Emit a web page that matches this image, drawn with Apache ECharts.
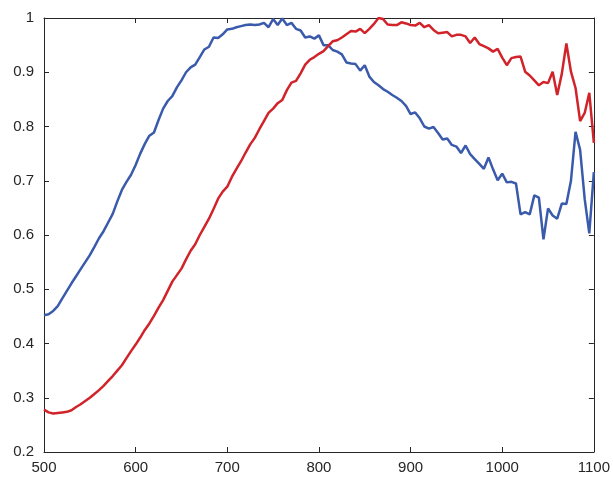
<!DOCTYPE html>
<html>
<head>
<meta charset="utf-8">
<script src="https://cdn.jsdelivr.net/npm/echarts@6/dist/echarts.min.js"></script>
<style>html,body{margin:0;padding:0;background:#fff}#c{width:613px;height:478px}</style>
</head>
<body>
<div id="c"></div>
<script>
const wavelengths = [];
for (let w = 500; w <= 1100; w += 5) wavelengths.push(w);

const blueValues = [
0.452,0.454,0.460,0.469,0.483,0.497,0.511,0.524,0.537,0.550,
0.563,0.578,0.594,0.607,0.623,0.639,0.662,0.683,0.698,0.711,
0.729,0.750,0.768,0.783,0.789,0.812,0.833,0.847,0.856,0.872,
0.885,0.900,0.909,0.914,0.928,0.942,0.947,0.964,0.963,0.970,
0.979,0.980,0.983,0.985,0.987,0.988,0.987,0.988,0.991,0.983,
0.998,0.987,0.999,0.987,0.991,0.980,0.977,0.964,0.966,0.962,
0.968,0.950,0.950,0.941,0.938,0.933,0.918,0.916,0.915,0.903,
0.913,0.892,0.882,0.876,0.869,0.864,0.858,0.853,0.847,0.838,
0.823,0.826,0.815,0.800,0.796,0.799,0.788,0.776,0.778,0.766,
0.763,0.751,0.765,0.749,0.740,0.731,0.722,0.743,0.721,0.701,
0.713,0.697,0.698,0.695,0.638,0.642,0.638,0.673,0.669,0.592,
0.649,0.636,0.630,0.658,0.657,0.700,0.790,0.757,0.666,0.603,
0.716];

const redValues = [
0.278,0.273,0.271,0.272,0.273,0.274,0.277,0.283,0.288,0.294,
0.300,0.307,0.314,0.322,0.331,0.340,0.350,0.360,0.373,0.386,
0.398,0.411,0.425,0.437,0.451,0.466,0.480,0.497,0.514,0.526,
0.538,0.555,0.571,0.583,0.600,0.615,0.630,0.648,0.667,0.680,
0.689,0.707,0.722,0.736,0.752,0.767,0.779,0.795,0.810,0.825,
0.833,0.843,0.849,0.867,0.881,0.884,0.898,0.914,0.923,0.928,
0.934,0.939,0.948,0.957,0.959,0.964,0.970,0.976,0.975,0.980,
0.972,0.980,0.989,1.000,0.998,0.988,0.987,0.987,0.992,0.990,
0.987,0.986,0.991,0.983,0.987,0.978,0.972,0.973,0.974,0.966,
0.969,0.969,0.966,0.954,0.964,0.952,0.948,0.944,0.938,0.943,
0.927,0.913,0.926,0.928,0.929,0.901,0.894,0.885,0.876,0.882,
0.880,0.901,0.858,0.897,0.953,0.901,0.871,0.810,0.825,0.862,
0.770];

const xTicks = [500, 600, 700, 800, 900, 1000, 1100];
const yTicks = [0.2, 0.3, 0.4, 0.5, 0.6, 0.7, 0.8, 0.9, 1];

const axisColor = '#262626';
const labelStyle = { color: '#262626', fontSize: 15, fontFamily: 'Liberation Sans, Arial, sans-serif' };

const chart = echarts.init(document.getElementById('c'), null, { renderer: 'canvas' });
chart.setOption({
  animation: false,
  backgroundColor: '#fff',
  grid: { left: 44, right: 18, top: 18, bottom: 26, containLabel: false },
  xAxis: [
    { type: 'value', min: xTicks[0], max: xTicks[xTicks.length - 1], interval: 100, position: 'bottom',
      axisLine: { show: true, lineStyle: { color: axisColor, width: 1 } },
      axisTick: { show: true, inside: true, length: 5, lineStyle: { color: axisColor } },
      axisLabel: Object.assign({ margin: 8, formatter: v => String(Math.round(v)) }, labelStyle),
      splitLine: { show: false } },
    { type: 'value', min: xTicks[0], max: xTicks[xTicks.length - 1], interval: 100, position: 'top',
      axisLine: { show: true, onZero: false, lineStyle: { color: axisColor, width: 1 } },
      axisTick: { show: true, inside: true, length: 5, lineStyle: { color: axisColor } },
      axisLabel: { show: false }, splitLine: { show: false } }
  ],
  yAxis: [
    { type: 'value', min: yTicks[0], max: yTicks[yTicks.length - 1], interval: 0.1, position: 'left',
      axisLine: { show: true, onZero: false, lineStyle: { color: axisColor, width: 1 } },
      axisTick: { show: true, inside: true, length: 5, lineStyle: { color: axisColor } },
      axisLabel: Object.assign({ margin: 10, formatter: v => String(Math.round(v * 10) / 10) }, labelStyle),
      splitLine: { show: false } },
    { type: 'value', min: yTicks[0], max: yTicks[yTicks.length - 1], interval: 0.1, position: 'right',
      axisLine: { show: true, onZero: false, lineStyle: { color: axisColor, width: 1 } },
      axisTick: { show: true, inside: true, length: 5, lineStyle: { color: axisColor } },
      axisLabel: { show: false }, splitLine: { show: false } }
  ],
  series: [
    { name: 'blue', type: 'line', xAxisIndex: 0, yAxisIndex: 0, showSymbol: false,
      data: wavelengths.map((w, i) => [w, blueValues[i]]),
      lineStyle: { color: '#3a5aab', width: 2.5 }, itemStyle: { color: '#3a5aab' }, z: 3 },
    { name: 'red', type: 'line', xAxisIndex: 0, yAxisIndex: 0, showSymbol: false,
      data: wavelengths.map((w, i) => [w, redValues[i]]),
      lineStyle: { color: '#d0232a', width: 2.5 }, itemStyle: { color: '#d0232a' }, z: 4 }
  ]
});
</script>
</body>
</html>
